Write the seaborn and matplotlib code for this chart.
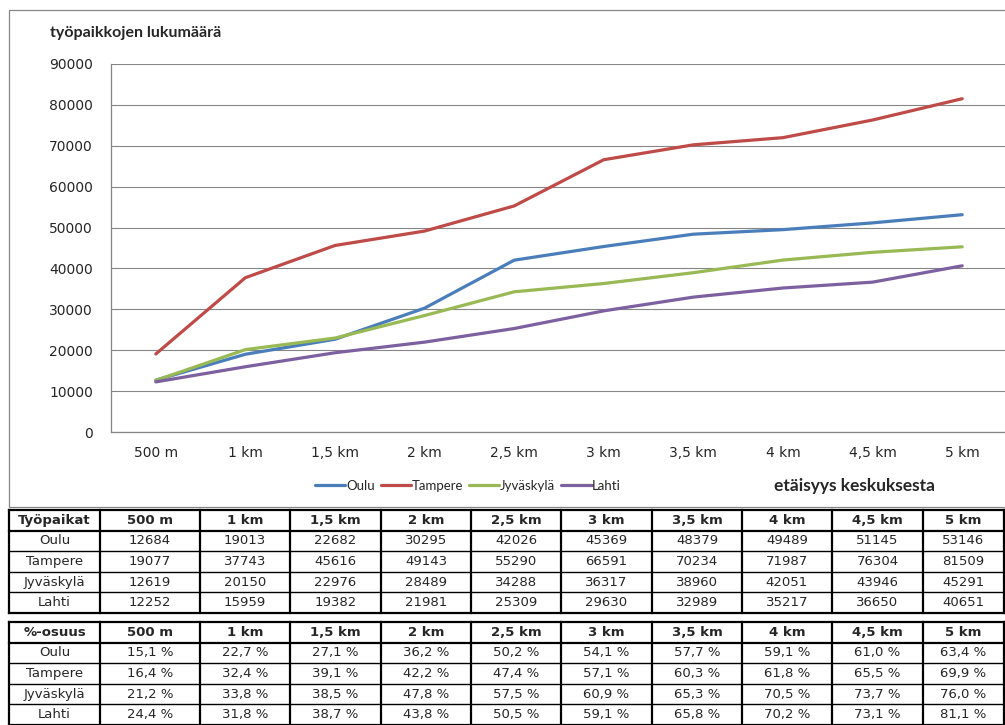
import numpy as np
import pandas as pd
import matplotlib
matplotlib.use("Agg")
import matplotlib.pyplot as plt
from matplotlib.patches import Rectangle
import seaborn as sns

# --- data -------------------------------------------------------------
distances = ["500 m", "1 km", "1,5 km", "2 km", "2,5 km",
             "3 km", "3,5 km", "4 km", "4,5 km", "5 km"]
cities = ["Oulu", "Tampere", "Jyväskylä", "Lahti"]

jobs_oulu = [12684, 19013, 22682, 30295, 42026, 45369, 48379, 49489, 51145, 53146]
jobs_tampere = [19077, 37743, 45616, 49143, 55290, 66591, 70234, 71987, 76304, 81509]
jobs_jyvaskyla = [12619, 20150, 22976, 28489, 34288, 36317, 38960, 42051, 43946, 45291]
jobs_lahti = [12252, 15959, 19382, 21981, 25309, 29630, 32989, 35217, 36650, 40651]

share_oulu = [15.1, 22.7, 27.1, 36.2, 50.2, 54.1, 57.7, 59.1, 61.0, 63.4]
share_tampere = [16.4, 32.4, 39.1, 42.2, 47.4, 57.1, 60.3, 61.8, 65.5, 69.9]
share_jyvaskyla = [21.2, 33.8, 38.5, 47.8, 57.5, 60.9, 65.3, 70.5, 73.7, 76.0]
share_lahti = [24.4, 31.8, 38.7, 43.8, 50.5, 59.1, 65.8, 70.2, 73.1, 81.1]

y_ticks = [0, 10000, 20000, 30000, 40000, 50000, 60000, 70000, 80000, 90000]

jobs = [jobs_oulu, jobs_tampere, jobs_jyvaskyla, jobs_lahti]
shares = [share_oulu, share_tampere, share_jyvaskyla, share_lahti]

df = pd.DataFrame({
    "etäisyys": distances * len(cities),
    "kaupunki": np.repeat(cities, len(distances)),
    "työpaikat": np.concatenate(jobs),
})

colors = {"Oulu": "#4A7EBB", "Tampere": "#BE4B48",
          "Jyväskylä": "#98B954", "Lahti": "#7D60A0"}

# --- figure -----------------------------------------------------------
sns.set_style("white")
plt.rcParams["font.family"] = ["DejaVu Sans"]

W, H = 1005, 725
fig = plt.figure(figsize=(W / 100, H / 100), dpi=100)

# background layer in pixel units for the frame, titles and tables
bg = fig.add_axes([0, 0, 1, 1], zorder=0)
bg.set_xlim(0, W)
bg.set_ylim(H, 0)
bg.axis("off")

grid_col = "#868686"
bg.add_patch(Rectangle((9, 10), 1010, 497, fill=False,
                       edgecolor=grid_col, linewidth=0.9))

# plot area
x0, x1, y_top, y_bot = 111, 1007, 64, 432
ax = fig.add_axes([x0 / W, (H - y_bot) / H, (x1 - x0) / W, (y_bot - y_top) / H],
                  zorder=1)
ax.patch.set_alpha(0)

sns.lineplot(data=df, x="etäisyys", y="työpaikat", hue="kaupunki",
             hue_order=cities, palette=colors, linewidth=2.3,
             sort=False, ax=ax)

ax.set_xlim(-0.5, len(distances) - 0.5)
ax.set_ylim(0, 90000)
ax.set_yticks(y_ticks)
ax.set_yticklabels([str(v) for v in y_ticks])
ax.set_xticks(range(len(distances)))
ax.set_xticklabels(distances)
ax.set_xticks(np.arange(-0.5, len(distances), 1), minor=True)
ax.set_xlabel("")
ax.set_ylabel("")

ax.yaxis.grid(True, color=grid_col, linewidth=0.8)
ax.set_axisbelow(True)
for side in ("top", "right"):
    ax.spines[side].set_visible(False)
for side in ("left", "bottom"):
    ax.spines[side].set_color(grid_col)
    ax.spines[side].set_linewidth(0.9)

ax.tick_params(axis="y", which="major", direction="out", length=5,
               color=grid_col, width=0.9, pad=8, labelsize=10)
ax.tick_params(axis="x", which="major", length=0, pad=10, labelsize=10)
ax.tick_params(axis="x", which="minor", direction="out", length=5,
               color=grid_col, width=0.9)

handles, labels = ax.get_legend_handles_labels()
ax.get_legend().remove()
fig.legend(handles, labels, loc="center",
           bbox_to_anchor=(468 / W, (H - 486) / H), ncol=4, frameon=False,
           handlelength=2.3, handletextpad=0.05, columnspacing=0.45,
           prop={"family": "Lato", "size": 9.5})

bg.text(50, 33, "työpaikkojen lukumäärä", ha="left", va="center",
        fontfamily="Lato", fontweight="bold", fontsize=11.5)
bg.text(855, 486, "etäisyys keskuksesta", ha="center", va="center",
        fontfamily="Lato", fontweight="bold", fontsize=12.5)

# --- tables -----------------------------------------------------------
col_edges = [9, 100, 200, 290, 381, 471, 561, 652, 742, 832, 923, 1004]
row_h = 20.6


def draw_table(top, corner, rows_values, fmt):
    n_rows = len(rows_values) + 1
    bottom = top + n_rows * row_h
    for i in range(n_rows + 1):
        y = top + i * row_h
        lw = 1.6 if i in (0, 1, n_rows) else 1.0
        bg.plot([col_edges[0], col_edges[-1]], [y, y], color="black",
                linewidth=lw, solid_capstyle="projecting")
    for x in col_edges:
        bg.plot([x, x], [top, bottom], color="black", linewidth=1.6,
                solid_capstyle="projecting")
    centers = [(a + b) / 2 for a, b in zip(col_edges[:-1], col_edges[1:])]
    ymid = top + row_h / 2
    bg.text(centers[0], ymid, corner, ha="center", va="center",
            fontsize=9.5, fontweight="bold")
    for cx, d in zip(centers[1:], distances):
        bg.text(cx, ymid, d, ha="center", va="center",
                fontsize=9.5, fontweight="bold")
    for r, (city, vals) in enumerate(zip(cities, rows_values), start=1):
        ymid = top + (r + 0.5) * row_h
        bg.text(centers[0], ymid, city, ha="center", va="center", fontsize=9.5)
        for cx, v in zip(centers[1:], vals):
            bg.text(cx, ymid, fmt(v), ha="center", va="center", fontsize=9.5)


draw_table(510, "Työpaikat", jobs, lambda v: f"{v}")
draw_table(622, "%-osuus", shares,
           lambda v: f"{v:.1f}".replace(".", ",") + " %")

fig.savefig("out.png", dpi=100)
